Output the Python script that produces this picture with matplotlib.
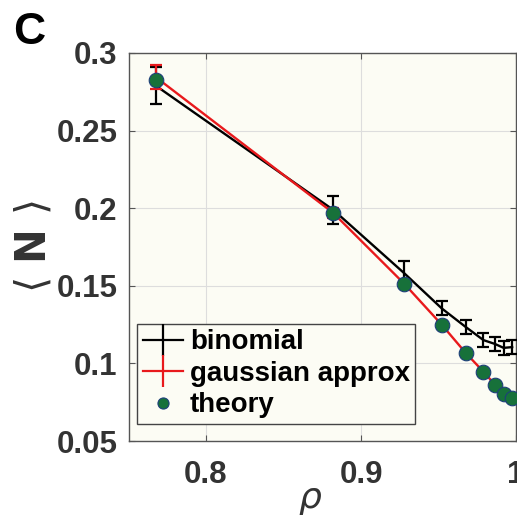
# <N> vs rho, binomial / gaussian approx / theory
import matplotlib.pyplot as plt
from matplotlib.lines import Line2D

plt.rcParams['font.family'] = ['Liberation Sans', 'DejaVu Sans']
plt.rcParams['mathtext.fontset'] = 'dejavusans'

rho = [0.7675, 0.882, 0.928, 0.952, 0.9675, 0.979, 0.9865, 0.992, 0.9975]
binomial = [0.279, 0.199, 0.158, 0.1355, 0.1235, 0.1150, 0.1125, 0.1100, 0.1105]
binomial_err = [0.012, 0.009, 0.008, 0.0045, 0.0045, 0.0045, 0.0045, 0.0045, 0.0045]
gaussian = [0.2845, 0.1970, 0.1512, 0.1250, 0.1068, 0.0946, 0.0862, 0.0806, 0.0778]
gaussian_err = [0.008, 0.003, 0.002, 0.002, 0.002, 0.002, 0.002, 0.002, 0.002]
theory = [0.2826, 0.1966, 0.1514, 0.1250, 0.1068, 0.0946, 0.0862, 0.0804, 0.0778]

txt_col = '#333333'
red = '#e8191c'
green = '#17713a'

fig = plt.figure(figsize=(5.17, 5.17), dpi=100)
ax = fig.add_axes([0.2486, 0.147, 0.7495, 0.7505])
ax.set_facecolor('#fcfcf4')

ax.errorbar(rho, binomial, yerr=binomial_err, color='black', lw=1.7,
            capsize=4, capthick=1.6, elinewidth=1.6, zorder=3)
ax.errorbar(rho, gaussian, yerr=gaussian_err, color=red, lw=1.7,
            capsize=4, capthick=1.6, elinewidth=1.6, zorder=4)
ax.plot(rho, theory, 'o', color=green, mec='#1d3f7a', mew=0.8, ms=10.5, zorder=5)

ax.set_xlim(0.75, 1.0)
ax.set_ylim(0.05, 0.3)
ax.set_xticks([0.8, 0.9, 1.0])
ax.set_xticklabels(['0.8', '0.9', '1'])
ax.set_yticks([0.05, 0.1, 0.15, 0.2, 0.25, 0.3])
ax.set_yticklabels(['0.05', '0.1', '0.15', '0.2', '0.25', '0.3'])
ax.grid(True, color='#dddddd', lw=0.8)
ax.set_axisbelow(True)
ax.tick_params(direction='in', length=4, width=0.8, color='#555555',
               labelcolor=txt_col, labelsize=22.5, top=True, right=True)
ax.tick_params(axis='x', pad=14)
ax.tick_params(axis='y', pad=8)
for lab in ax.get_xticklabels() + ax.get_yticklabels():
    lab.set_fontweight('bold')
for s in ax.spines.values():
    s.set_color('#555555')
    s.set_linewidth(1.0)

ax.set_xlabel(r'$\rho$', fontsize=26, color=txt_col)
ax.xaxis.set_label_coords(0.47, -0.105)
ax.set_ylabel(r'$\langle\ \mathbf{N}\ \rangle$', fontsize=30, color=txt_col)
ax.yaxis.set_label_coords(-0.19, 0.5)

# legend entries: cross for error-bar series, dot for theory
handles = [
    Line2D([], [], color='black', lw=1.6, marker='|', ms=23, mew=1.6),
    Line2D([], [], color=red, lw=1.6, marker='|', ms=23, mew=1.6),
    Line2D([], [], color=green, lw=0, marker='o', ms=8, mec='#1d3f7a', mew=0.8),
]
labels = ['binomial', 'gaussian approx', 'theory']
leg = ax.legend(handles, labels, loc='lower left', bbox_to_anchor=(0.022, 0.044),
                borderaxespad=0, prop={'weight': 'bold', 'size': 20},
                handlelength=1.45, handletextpad=0.25, labelspacing=0.2,
                borderpad=0.2, fancybox=False, framealpha=1, numpoints=1)
leg.get_frame().set_edgecolor('#444444')
leg.get_frame().set_facecolor('#fcfcf4')
leg.get_frame().set_linewidth(1.0)

fig.text(13 / 517, 1 - 12 / 517, 'C', fontsize=32, fontweight='bold', va='top', ha='left')

plt.savefig('out.png', dpi=100)
